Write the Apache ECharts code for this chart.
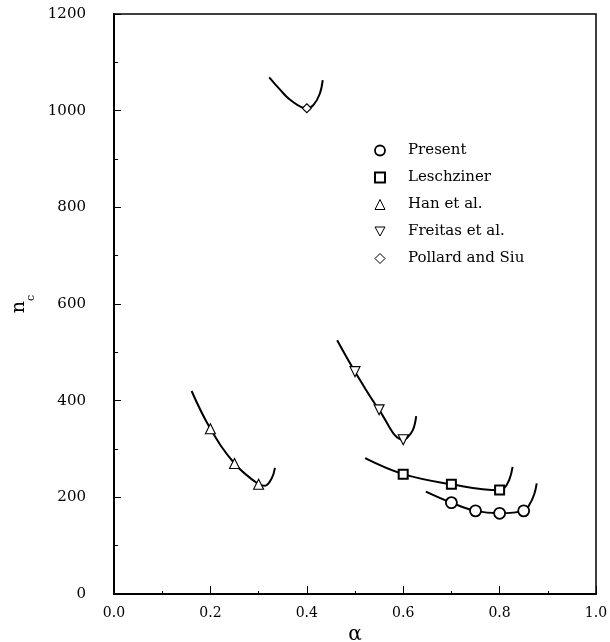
<!DOCTYPE html>
<html>
<head>
<meta charset="utf-8">
<script src="https://cdn.jsdelivr.net/npm/echarts@6/dist/echarts.min.js"></script>
<style>
  html, body { margin: 0; padding: 0; background: #fff; }
  #chart { width: 610px; height: 642px; }
</style>
</head>
<body>
<div id="chart"></div>
<script>
// markers
const presentA = [0.70, 0.75, 0.80, 0.85]
const presentN = [189, 172, 167, 172]
const leschA = [0.60, 0.70, 0.80]
const leschN = [248, 227, 215]
const hanA = [0.20, 0.25, 0.30]
const hanN = [342, 270, 227]
const freitasA = [0.50, 0.55, 0.60]
const freitasN = [460, 381, 319]
const pollardA = [0.40]
const pollardN = [1005]

// fitted curves, traced points
const presentCurveA = [0.647, 0.70, 0.75, 0.80, 0.85, 0.862, 0.872, 0.877]
const presentCurveN = [212, 189, 172, 167, 172, 185, 207, 229]
const leschCurveA = [0.521, 0.60, 0.70, 0.80, 0.808, 0.82, 0.827]
const leschCurveN = [281, 248, 227, 215, 217, 236, 263]
const hanCurveA = [0.161, 0.20, 0.25, 0.30, 0.313, 0.327, 0.334]
const hanCurveN = [420, 342, 270, 227, 224, 239, 261]
const freitasCurveA = [0.463, 0.50, 0.55, 0.60, 0.607, 0.62, 0.627]
const freitasCurveN = [525, 460, 381, 319, 322, 339, 368]
const pollardCurveA = [0.322, 0.345, 0.366, 0.40, 0.414, 0.427, 0.433]
const pollardCurveN = [1069, 1043, 1022, 1005, 1012, 1035, 1063]

const xTicks = [0, 0.2, 0.4, 0.6, 0.8, 1.0]
const yTicks = [0, 200, 400, 600, 800, 1000, 1200]

const font = 'DejaVu Serif'
const downTri = 'path://M0,0L10,0L5,9Z'
const zip = (a, b) => a.map((v, i) => [v, b[i]])

function curve (name, a, n) {
  return {
    name: name,
    type: 'line',
    data: zip(a, n),
    smooth: 0.4,
    symbol: 'none',
    silent: true,
    lineStyle: { color: '#000', width: 2 },
    z: 2
  }
}

function marks (name, a, n, symbol, size, bw) {
  return {
    name: name,
    type: 'scatter',
    data: zip(a, n),
    symbol: symbol,
    symbolSize: size,
    itemStyle: { color: '#fff', borderColor: '#000', borderWidth: bw, opacity: 1 },
    z: 3
  }
}

// legend entry with its own border width
const legendItem = (name, icon, bw) => ({
  name: name,
  icon: icon,
  itemStyle: { color: '#fff', borderColor: '#000', borderWidth: bw }
})

const chart = echarts.init(document.getElementById('chart'))
chart.setOption({
  animation: false,
  backgroundColor: '#fff',
  grid: {
    left: 114, top: 14, right: 14, bottom: 48,
    outerBoundsMode: 'none',
    containLabel: false,
    show: true, borderColor: '#000', borderWidth: 1.5, backgroundColor: 'transparent'
  },
  legend: {
    orient: 'vertical',
    left: 369,
    top: 137,
    itemWidth: 10,
    itemHeight: 10,
    itemGap: 10,
    data: [
      legendItem('Present', 'circle', 1.8),
      legendItem('Leschziner', 'rect', 2),
      legendItem('Han et al.', 'triangle', 1),
      legendItem('Freitas et al.', downTri, 1),
      legendItem('Pollard and Siu', 'diamond', 1)
    ],
    textStyle: { fontFamily: font, fontSize: 15, color: '#000', lineHeight: 17, padding: [0, 0, 0, 18] }
  },
  xAxis: {
    type: 'value',
    min: 0, max: 1, interval: 0.2,
    name: 'α',
    nameLocation: 'middle',
    nameGap: 22,
    nameTextStyle: { fontFamily: font, fontSize: 20, color: '#000' },
    axisLine: { lineStyle: { color: '#000', width: 2 } },
    axisTick: { inside: true, length: 8, lineStyle: { color: '#000', width: 1 } },
    minorTick: { show: true, splitNumber: 2, length: 3, lineStyle: { color: '#000', width: 1 } },
    splitLine: { show: false },
    axisLabel: {
      margin: 12, fontFamily: font, fontSize: 14, color: '#000',
      formatter: v => xTicks.indexOf(v) >= 0 ? v.toFixed(1) : ''
    }
  },
  yAxis: {
    type: 'value',
    min: 0, max: 1200, interval: 200,
    name: '{n|n}{c|c}',
    nameLocation: 'middle',
    nameRotate: 90,
    nameGap: 68,
    nameTextStyle: {
      rich: {
        n: { fontFamily: font, fontSize: 19, color: '#000', lineHeight: 20, verticalAlign: 'top' },
        c: { fontFamily: font, fontSize: 11, color: '#000', lineHeight: 27, verticalAlign: 'bottom' }
      }
    },
    axisLine: { lineStyle: { color: '#000', width: 2 } },
    axisTick: { inside: true, length: 7, lineStyle: { color: '#000', width: 1 } },
    minorTick: { show: true, splitNumber: 2, length: 4, lineStyle: { color: '#000', width: 1 } },
    splitLine: { show: false },
    axisLabel: {
      margin: 28, fontFamily: font, fontSize: 15, color: '#000',
      formatter: v => yTicks.indexOf(v) >= 0 ? String(v) : ''
    }
  },
  series: [
    curve('c1', presentCurveA, presentCurveN),
    curve('c2', leschCurveA, leschCurveN),
    curve('c3', hanCurveA, hanCurveN),
    curve('c4', freitasCurveA, freitasCurveN),
    curve('c5', pollardCurveA, pollardCurveN),
    marks('Present', presentA, presentN, 'circle', 11, 1.8),
    marks('Leschziner', leschA, leschN, 'rect', 9, 2),
    marks('Han et al.', hanA, hanN, 'triangle', 10, 1.1),
    marks('Freitas et al.', freitasA, freitasN, downTri, 10, 1.1),
    marks('Pollard and Siu', pollardA, pollardN, 'diamond', 9, 1.1)
  ]
})
</script>
</body>
</html>
